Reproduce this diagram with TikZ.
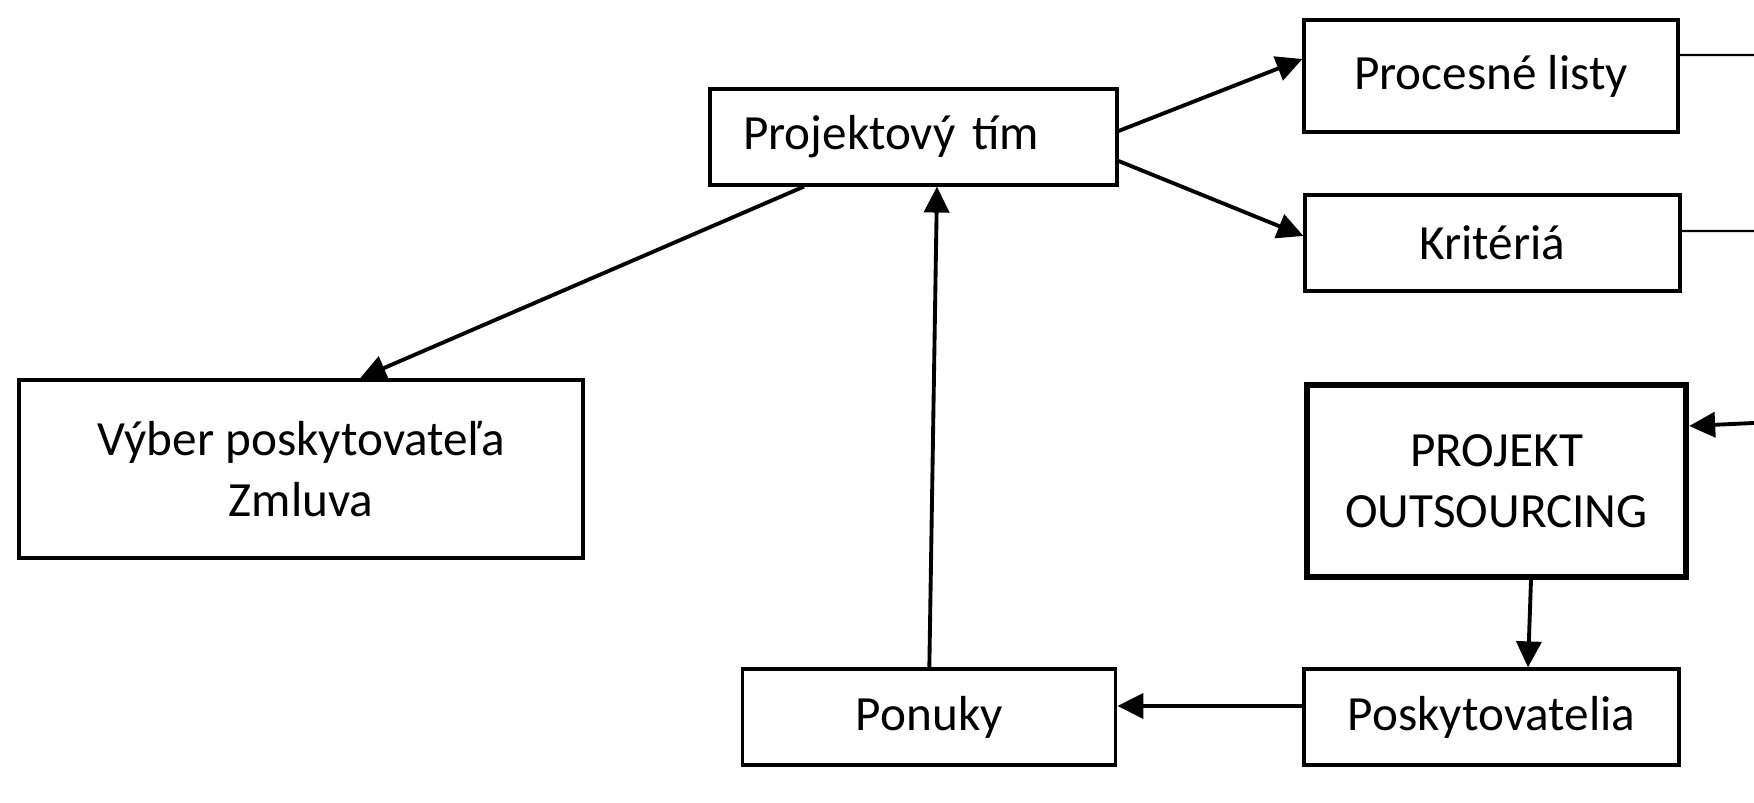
\documentclass[tikz,border=0pt]{standalone}
\usepackage{fontspec}
\setmainfont{Carlito}
\usetikzlibrary{positioning,arrows.meta}
\tikzset{
  blok/.style={rectangle,draw=black,line width=0.9pt,minimum height=9.6mm,inner sep=1pt,font=\fontsize{14}{17.5}\selectfont,align=center},
  blokH/.style={blok,line width=1.8pt},
  sip/.style={-{Triangle[length=2.6mm,width=2.5mm]},line width=1.1pt},
  linka/.style={line width=0.6pt},
}

\begin{document}
\begin{tikzpicture}
  \useasboundingbox (0,0) rectangle (17.54,8.03);
  % uzly
  \node[blok,text width=34.1mm,align=left,inner xsep=3.3mm] (tim) at (9.135,6.66) {Projektový tím};
  \node[blok,minimum width=37.4mm,minimum height=11.2mm] (listy) at (14.91,7.27) {Procesné listy};
  \node[blok,minimum width=37.5mm] (krit) at (14.925,5.60) {Kritériá};
  \node[blokH,minimum width=37.9mm,minimum height=19.2mm] (proj) at (14.965,3.22) {PROJEKT\\OUTSOURCING};
  \node[blok,minimum width=37.5mm] (posk) at (14.915,0.86) {Poskytovatelia};
  \node[blok,minimum width=37.3mm] (ponuky) [left=18.5mm of posk] {Ponuky};
  \node[blok,minimum width=56.4mm,minimum height=17.8mm] (vyber) at (3.01,3.34) {Výber poskytovateľa\\Zmluva};
  % volne konce vpravo
  \coordinate (r1) at (17.54,7.48);
  \coordinate (r2) at (17.54,5.72);
  \coordinate (r3) at (17.54,3.80);
  % spojnice
  \draw[sip] ([yshift=0.6mm]tim.east) -- ([yshift=1.7mm]listy.west);
  \draw[sip] ([yshift=-2.4mm]tim.east) -- ([yshift=0.7mm]krit.west);
  \draw[sip] ([xshift=-10.95mm]tim.south) -- ([xshift=5.9mm]vyber.north);
  \draw[sip] (ponuky.north) -- ([xshift=2.35mm]tim.south);
  \draw[sip] ([xshift=3.45mm]proj.south) -- ([xshift=3.65mm]posk.north);
  \draw[sip] ([yshift=1.1mm]posk.west) -- ([yshift=1.1mm]ponuky.east);
  \draw[linka] ([yshift=2.1mm]listy.east) -- (r1);
  \draw[linka] ([yshift=1.2mm]krit.east) -- (r2);
  \draw[sip] (r3) -- ([yshift=5.5mm]proj.east);
\end{tikzpicture}
\end{document}
